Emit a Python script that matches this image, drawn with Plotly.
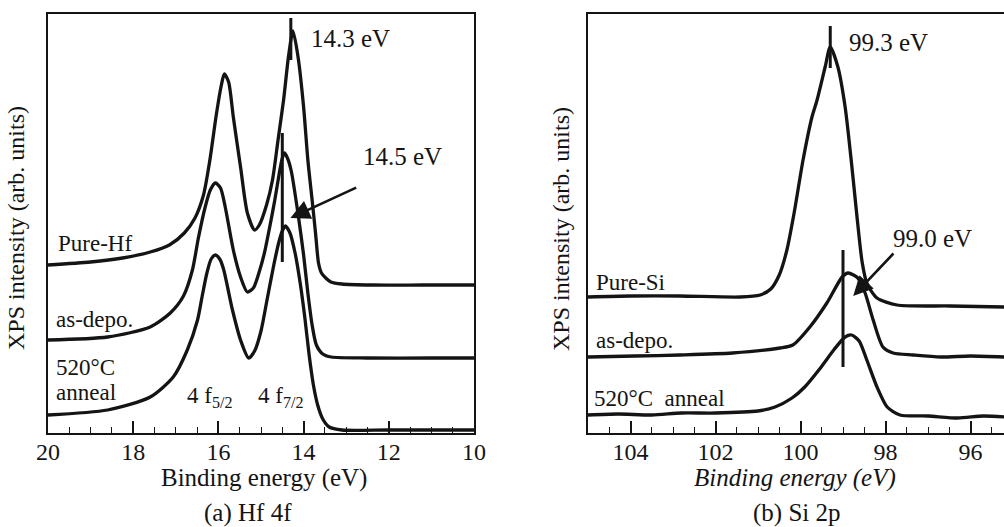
import plotly.graph_objects as go

W, H = 1004, 527
FONT = "Liberation Serif"
INK = "#141414"

# ---- Hf 4f spectra: binding energy (eV) and intensity (arb. units) ----
hf_pure_e = [20.0, 19.0, 18.25, 17.6, 17.15, 16.8, 16.55, 16.35, 16.2, 16.05, 15.93, 15.86,
             15.76, 15.65, 15.48, 15.32, 15.15, 15.04, 14.87, 14.73, 14.6, 14.47, 14.35, 14.25,
             14.13, 14.0, 13.9, 13.8, 13.72, 13.65, 13.58, 13.48, 13.36, 13.1, 12.4, 11.2, 10.0]
hf_pure_i = [168, 171, 175, 181, 188, 200, 215, 238, 273, 318, 348, 359,
             351, 316, 266, 220, 203, 208, 228, 253, 293, 333, 378, 402,
             376, 326, 273, 233, 200, 170, 160, 155, 151, 149, 148, 148, 148]

hf_asdep_e = [20.0, 18.6, 17.6, 17.13, 16.82, 16.61, 16.47, 16.31, 16.19, 16.07, 15.95, 15.84,
              15.65, 15.48, 15.32, 15.18, 15.05, 14.92, 14.8, 14.68, 14.57, 14.5, 14.45, 14.38,
              14.29, 14.12, 14.0, 13.9, 13.8, 13.7, 13.55, 13.35, 12.5, 11.0, 10.0]
hf_asdep_i = [93, 96, 106, 120, 137, 163, 195, 226, 243, 250, 245, 226,
              183, 156, 141, 145, 160, 180, 205, 232, 260, 275, 280, 275,
              262, 216, 178, 140, 108, 88, 79, 76, 75, 75, 75]

hf_anneal_e = [20.0, 18.6, 17.6, 17.06, 16.73, 16.49, 16.38, 16.27, 16.17, 16.07, 15.97, 15.88,
               15.67, 15.48, 15.29, 15.15, 15.0, 14.85, 14.7, 14.58, 14.5, 14.43, 14.32, 14.2,
               14.08, 13.97, 13.87, 13.77, 13.67, 13.55, 13.4, 13.1, 12.0, 10.0]
hf_anneal_i = [18, 23, 36, 56, 83, 113, 137, 160, 174, 178, 174, 164,
               123, 93, 75, 82, 102, 135, 168, 191, 202, 207, 200, 180,
               150, 115, 78, 48, 28, 14, 6, 3, 3, 3]

# ---- Si 2p spectra ----
si_pure_e = [105.0, 104.0, 102.84, 101.42, 100.95, 100.7, 100.5, 100.32, 100.15, 99.94, 99.73,
             99.61, 99.42, 99.3, 99.12, 98.95, 98.79, 98.67, 98.55, 98.44, 98.2, 97.73, 96.48, 95.2]
si_pure_i = [136, 137, 137, 136, 138, 144, 158, 183, 220, 273, 316,
             333, 366, 386, 366, 326, 266, 216, 171, 150, 135, 128, 127, 126]

si_asdep_e = [105.0, 103.9, 102.84, 101.6, 100.48, 100.18, 99.78, 99.38, 99.02, 98.88, 98.65,
              98.48, 98.29, 98.06, 97.82, 97.35, 96.7, 96.0, 95.2]
si_asdep_i = [76, 77, 78, 80, 85, 88, 106, 130, 156, 160, 155,
              140, 113, 86, 80, 78, 76, 77, 76]

si_anneal_e = [105.0, 104.3, 103.5, 102.8, 102.0, 101.0, 100.6, 100.2, 99.9, 99.55, 99.2, 98.95,
               98.8, 98.62, 98.44, 98.2, 97.96, 97.66, 97.0, 96.3, 95.7, 95.2]
si_anneal_i = [18, 19, 18, 20, 20, 22, 26, 35, 46, 64, 84, 96,
               98, 92, 73, 46, 26, 18, 17, 15, 17, 16]

# peak markers (energy, intensity range) and arrows (tip, tail)
hf_mark_pure = (14.3, [373, 415])
hf_mark_dep = (14.5, [171, 300])
si_mark_pure = (99.3, [365, 407])
si_mark_dep = (99.0, [66, 183])
hf_arrow = ((14.31, 215), (12.73, 246))
si_arrow = ((98.76, 137), (97.78, 181))

HF_X = [20, 10]
SI_X = [105, 105 - (W - 588) / 42.5]
Y_RANGE = [0, 419]


def px(x, y):
    """pixel position -> paper coordinates"""
    return x / W, 1 - y / H


fig = go.Figure()
line = dict(color=INK, width=3.3, shape="spline", smoothing=0.7)
for e, i in [(hf_pure_e, hf_pure_i), (hf_asdep_e, hf_asdep_i), (hf_anneal_e, hf_anneal_i)]:
    fig.add_trace(go.Scatter(x=e, y=i, mode="lines", line=line, xaxis="x", yaxis="y",
                             showlegend=False, hoverinfo="skip"))
for e, i in [(si_pure_e, si_pure_i), (si_asdep_e, si_asdep_i), (si_anneal_e, si_anneal_i)]:
    fig.add_trace(go.Scatter(x=e, y=i, mode="lines", line=line, xaxis="x2", yaxis="y2",
                             showlegend=False, hoverinfo="skip"))

shapes = []
for (e, (y0, y1)), ax in [(hf_mark_pure, ""), (hf_mark_dep, ""), (si_mark_pure, "2"), (si_mark_dep, "2")]:
    shapes.append(dict(type="line", xref="x" + ax, yref="y" + ax, x0=e, x1=e, y0=y0, y1=y1,
                       line=dict(color=INK, width=3)))

xaxis_common = dict(showline=True, linecolor=INK, linewidth=2, ticks="inside", ticklen=12,
                    tickwidth=1.6, tickcolor=INK, dtick=2, showgrid=False, zeroline=False,
                    tickfont=dict(family=FONT, size=24, color=INK), ticklabelstandoff=-4,
                    minor=dict(dtick=0.5, ticks="inside", ticklen=6, tickwidth=1.3, tickcolor=INK,
                               showgrid=False))
yaxis_common = dict(showline=True, linecolor=INK, linewidth=2, ticks="", showticklabels=False,
                    showgrid=False, zeroline=False, range=Y_RANGE, fixedrange=True)

y_dom = [1 - 433 / H, 1 - 14 / H]
fig.update_layout(
    width=W, height=H, margin=dict(l=0, r=0, t=0, b=0, autoexpand=False),
    paper_bgcolor="white", plot_bgcolor="white",
    font=dict(family=FONT, color=INK),
    xaxis=dict(xaxis_common, domain=[48 / W, 474 / W], range=HF_X, mirror=True, anchor="y"),
    yaxis=dict(yaxis_common, domain=y_dom, mirror=True, anchor="x"),
    xaxis2=dict(xaxis_common, domain=[588 / W, 1.0], range=SI_X, mirror=True, anchor="y2"),
    yaxis2=dict(yaxis_common, domain=y_dom, mirror=False, anchor="x2"),
    shapes=shapes,
)

ann = []


def label(text, x, y, size=23, xanchor="left", angle=0):
    px_x, px_y = px(x, y)
    ann.append(dict(text=text, x=px_x, y=px_y, xref="paper", yref="paper", showarrow=False,
                    xanchor=xanchor, yanchor="middle", textangle=angle,
                    font=dict(family=FONT, size=size, color=INK)))


# curve labels
label("Pure-Hf", 56, 243)
label("as-depo.", 54, 319)
label("520°C", 54, 367)
label("anneal", 54, 392)
label("4 f<sub>5/2</sub>", 210, 397, size=23, xanchor="center")
label("4 f<sub>7/2</sub>", 281, 397, size=23, xanchor="center")
label("14.3 eV", 309, 38, size=25)
label("14.5 eV", 361, 157, size=25)

label("Pure-Si", 594, 282)
label("as-depo.", 594, 340)
label("520°C  anneal", 592, 398)
label("99.3 eV", 847, 43, size=25)
label("99.0 eV", 891, 238, size=25)

# axis titles and captions
label("XPS intensity (arb. units)", 16, 228, size=24, xanchor="center", angle=-90)
label("XPS intensity (arb. units)", 561, 229, size=24, xanchor="center", angle=-90)
label("Binding energy (eV)", 264, 478, size=25, xanchor="center")
label("<i>Binding energy (eV)</i>", 795, 478, size=25, xanchor="center")
label("(a) Hf 4f", 248, 513, size=25, xanchor="center")
label("(b) Si 2p", 797, 513, size=25, xanchor="center")

# arrows pointing at the shifted peaks
for (tip, tail), ax in [(hf_arrow, ""), (si_arrow, "2")]:
    ann.append(dict(x=tip[0], y=tip[1], ax=tail[0], ay=tail[1], xref="x" + ax, yref="y" + ax,
                    axref="x" + ax, ayref="y" + ax, text="", showarrow=True, arrowhead=2,
                    arrowsize=1.5, arrowwidth=2.6, arrowcolor=INK))

fig.update_layout(annotations=ann)
fig.write_html("out.html")
